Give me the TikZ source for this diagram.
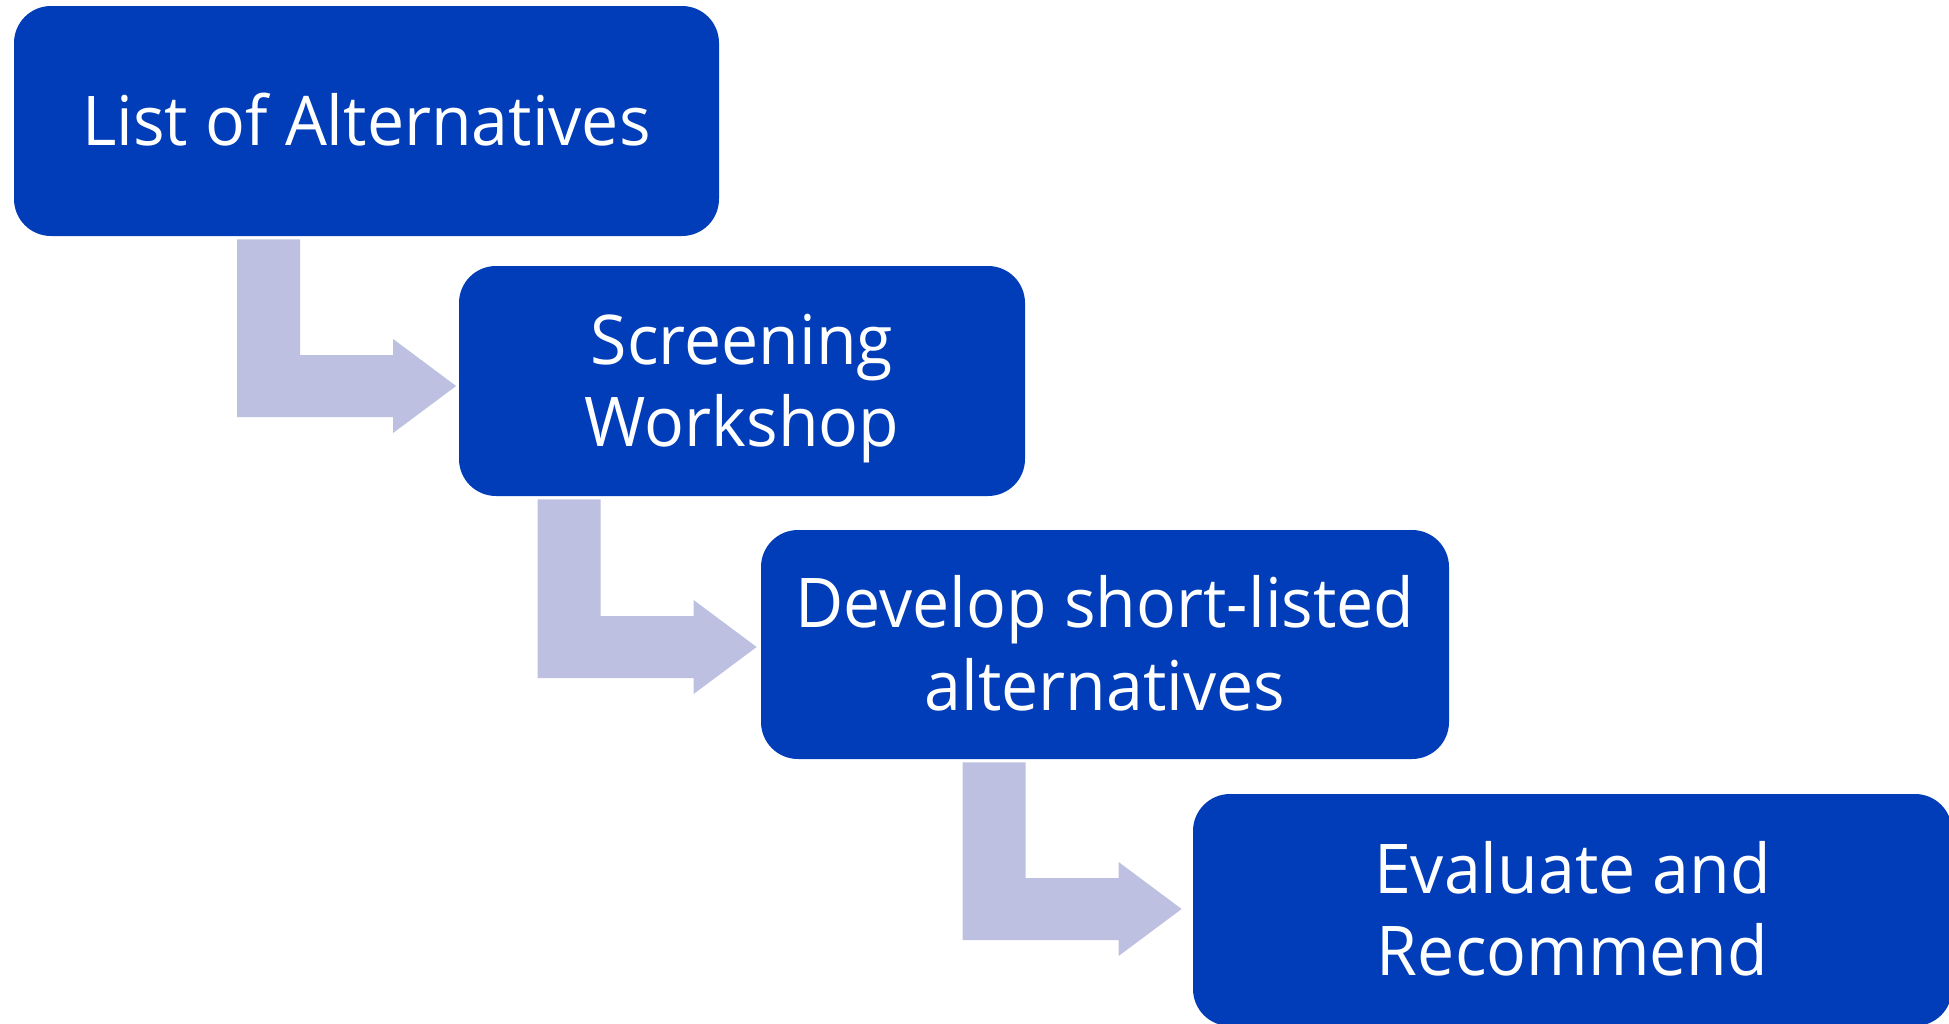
\documentclass[tikz,border=0pt]{standalone}
\usepackage{fontspec}
\setmainfont[FakeStretch=0.965]{Open Sans}
\usetikzlibrary{calc}
\definecolor{boxblue}{HTML}{013DB9}
\definecolor{arrowlav}{HTML}{BDC0E0}
\tikzset{
  stepbox/.style={fill=boxblue, draw=none, rounded corners=18.5pt, inner sep=0pt},
  steptext/.style={text=white, inner sep=0pt, anchor=base, font=\fontsize{34.3}{41}\selectfont},
}
\begin{document}
\begin{tikzpicture}[x=0.5pt,y=-0.5pt]
\useasboundingbox (0,0) rectangle (1949,1023);
\node[stepbox, minimum width=352.5pt, minimum height=115pt] (b1) at (366.5,121) {};
\node[stepbox, minimum width=283pt, minimum height=115pt] (b2) at (742,381) {};
\node[stepbox, minimum width=344pt, minimum height=114.5pt] (b3) at (1105,644.5) {};
\node[stepbox, minimum width=379.5pt, minimum height=116pt] (b4) at (1572.5,910) {};
\node[steptext] (t1) at ($(b1.center)+(0,24.5)$) {List of Alternatives};
\node[steptext] (t2a) at ($(b2.center)+(0,-16.75)$) {Screening};
\node[steptext] (t2b) at ($(b2.center)+(0,65.75)$) {Workshop};
\node[steptext] (t3a) at ($(b3.center)+(0,-16.75)$) {Develop short-listed};
\node[steptext] (t3b) at ($(b3.center)+(0,65.75)$) {alternatives};
\node[steptext] (t4a) at ($(b4.center)+(0,-16.75)$) {Evaluate and};
\node[steptext] (t4b) at ($(b4.center)+(0,65.75)$) {Recommend};
\foreach \s/\d/\dy/\g in {b1/b2/-2.5pt/1.25pt,b2/b3/-1.25pt/2pt,b3/b4/0.5pt/5.5pt}{
  \fill[arrowlav] let \p1=(\s.south), \p2=($(\d.west)+(-\g,\dy)$) in
    (\x2-109.5pt,\y1-1.5pt) -- (\x2-78pt,\y1-1.5pt) -- (\x2-78pt,\y2+15.5pt)
    -- (\x2-31.5pt,\y2+15.5pt) -- (\x2-31.5pt,\y2+23.5pt) -- (\x2,\y2)
    -- (\x2-31.5pt,\y2-23.5pt) -- (\x2-31.5pt,\y2-15.5pt) -- (\x2-109.5pt,\y2-15.5pt) -- cycle;
}
\end{tikzpicture}
\end{document}
